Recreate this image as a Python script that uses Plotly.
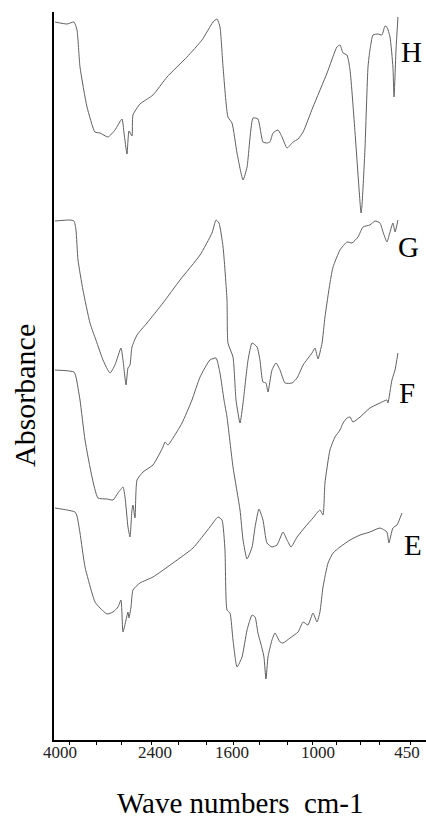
import numpy as np
import plotly.graph_objects as go

# ---- data (wavenumber cm-1, absorbance in arbitrary stacked units) ----
H_WN = [4084, 3882, 3764, 3714, 3663, 3545, 3411, 3326, 3192, 3074, 2956, 2922, 2872, 2838, 2788, 2771,
        2653, 2434, 2275, 2068, 1912, 1797, 1756, 1725, 1693, 1642, 1600, 1565, 1523, 1495, 1453, 1419,
        1384, 1356, 1335, 1314, 1279, 1251, 1216, 1174, 1139, 1104, 1035, 944, 883, 864, 845, 821, 802,
        771, 740, 734, 728, 710, 691, 679, 660, 629, 605, 586, 574, 555, 537, 530, 518, 506]
H_AB = [7.18, 7.16, 7.18, 7.10, 6.73, 6.33, 6.08, 6.07, 6.03, 6.10, 6.21, 6.07, 5.86, 6.09, 6.04, 6.25,
        6.36, 6.45, 6.63, 6.83, 7.00, 7.18, 7.21, 7.13, 6.73, 6.23, 6.17, 5.87, 5.60, 5.73, 6.22, 6.21,
        5.98, 5.97, 5.98, 6.07, 6.10, 6.03, 5.92, 5.98, 6.01, 6.08, 6.33, 6.67, 6.93, 6.95, 6.87, 6.85, 6.70,
        6.07, 5.37, 5.27, 5.35, 5.90, 6.73, 6.90, 7.05, 7.06, 7.05, 7.14, 7.13, 7.03, 6.73, 6.43, 6.90, 7.23]

G_WN = [4084, 3832, 3764, 3731, 3697, 3613, 3495, 3377, 3276, 3158, 3074, 2973, 2939, 2888, 2855, 2821,
        2788, 2703, 2535, 2317, 2140, 1932, 1808, 1766, 1735, 1693, 1652, 1642, 1593, 1572, 1544, 1523,
        1488, 1460, 1425, 1405, 1384, 1363, 1349, 1321, 1293, 1265, 1230, 1181, 1146, 1104, 1042, 1021,
        1000, 975, 957, 926, 907, 864, 821, 790, 753, 722, 679, 648, 617, 598, 574, 555, 537, 524, 506]
G_AB = [5.19, 5.20, 5.19, 5.10, 4.80, 4.50, 4.17, 3.97, 3.80, 3.67, 3.75, 3.92, 3.80, 3.55, 3.72, 3.75,
        3.93, 4.05, 4.17, 4.37, 4.60, 4.85, 5.07, 5.20, 5.17, 4.93, 4.40, 3.97, 3.83, 3.40, 3.17, 3.37,
        3.80, 3.97, 3.93, 3.80, 3.58, 3.57, 3.48, 3.70, 3.77, 3.70, 3.57, 3.57, 3.62, 3.75, 3.87, 3.92,
        3.81, 3.97, 4.23, 4.57, 4.73, 4.90, 4.98, 4.97, 5.03, 5.13, 5.15, 5.19, 5.17, 5.08, 4.98, 5.08, 5.17, 5.08, 5.20]

F_WN = [4084, 3764, 3731, 3663, 3579, 3461, 3360, 3209, 3107, 3023, 2939, 2905, 2855, 2821, 2788, 2771,
        2737, 2703, 2602, 2434, 2317, 2296, 2265, 2213, 2119, 2016, 1932, 1829, 1766, 1725, 1683, 1652,
        1593, 1544, 1523, 1495, 1460, 1439, 1412, 1384, 1356, 1321, 1286, 1244, 1216, 1188, 1146, 1090,
        1035, 988, 969, 957, 926, 895, 864, 845, 821, 802, 784, 740, 679, 617, 574, 568, 543, 524, 506]
F_AB = [3.70, 3.68, 3.63, 3.40, 3.00, 2.63, 2.42, 2.41, 2.40, 2.47, 2.53, 2.43, 2.13, 2.03, 2.30, 2.35,
        2.22, 2.60, 2.68, 2.75, 2.93, 2.98, 2.95, 3.02, 3.17, 3.40, 3.63, 3.80, 3.82, 3.67, 3.40, 3.23,
        2.73, 2.30, 2.00, 1.81, 1.93, 2.13, 2.31, 2.20, 1.97, 1.93, 1.95, 2.08, 2.00, 1.93, 2.03, 2.13,
        2.22, 2.30, 2.25, 2.57, 2.90, 3.03, 3.10, 3.17, 3.22, 3.23, 3.18, 3.23, 3.32, 3.37, 3.40, 3.37, 3.60, 3.70, 3.87]

E_WN = [4084, 3882, 3747, 3714, 3663, 3579, 3461, 3411, 3326, 3209, 3107, 3023, 2973, 2939, 2888, 2855,
        2838, 2804, 2771, 2653, 2434, 2213, 2005, 1829, 1745, 1704, 1673, 1652, 1621, 1593, 1565, 1530,
        1495, 1460, 1439, 1419, 1391, 1377, 1363, 1349, 1321, 1300, 1265, 1244, 1195, 1139, 1104, 1070,
        1035, 1007, 988, 969, 938, 907, 864, 802, 740, 679, 617, 574, 562, 537, 512, 481]
E_AB = [2.32, 2.30, 2.28, 2.24, 2.07, 1.73, 1.47, 1.38, 1.32, 1.26, 1.28, 1.33, 1.40, 1.08, 1.20, 1.28,
        1.22, 1.33, 1.50, 1.57, 1.63, 1.77, 1.92, 2.13, 2.23, 2.20, 1.90, 1.30, 1.27, 1.00, 0.73, 0.83,
        1.10, 1.25, 1.23, 1.07, 0.92, 0.83, 0.61, 0.83, 1.00, 1.07, 0.98, 0.97, 1.02, 1.08, 1.18, 1.15,
        1.27, 1.18, 1.28, 1.53, 1.77, 1.87, 1.93, 2.00, 2.05, 2.08, 2.12, 2.08, 1.97, 2.12, 2.15, 2.27]

SERIES_NAMES = ["H", "G", "F", "E"]
TICK_LABELS = [4000, 2400, 1600, 1000, 450]
MINOR_TICKS = [3832, 3377, 2956, 2451, 2161, 1860, 1593, 1405, 1216, 1035, 883, 740, 617, 431]

# ---- piecewise (non-linear) wavenumber axis of the original instrument plot ----
SCALE_WN = [4101, 4000, 2400, 1600, 1000, 450, 333]
SCALE_POS = [0, 6, 101, 178, 264, 353, 372]


def pos(wn):
    wn = np.asarray(wn, dtype=float)
    return np.interp(-wn, -np.asarray(SCALE_WN, float), np.asarray(SCALE_POS, float))


FONT = "Liberation Serif, Times New Roman, serif"
fig = go.Figure()
for name, wn, ab in [("H", H_WN, H_AB), ("G", G_WN, G_AB), ("F", F_WN, F_AB), ("E", E_WN, E_AB)]:
    fig.add_trace(go.Scatter(x=pos(wn), y=ab, mode="lines", name=name,
                             line=dict(color="#606060", width=1, shape="spline", smoothing=0.5),
                             showlegend=False))

# invisible trace on second axis for tick labels
fig.add_trace(go.Scatter(x=pos(TICK_LABELS), y=[0] * 5, xaxis="x2", mode="markers",
                         marker=dict(opacity=0), showlegend=False, hoverinfo="skip"))

fig.update_layout(
    width=426, height=818,
    margin=dict(l=54, r=0, t=12, b=78),
    paper_bgcolor="white", plot_bgcolor="white",
    xaxis=dict(range=[0, 372], showline=True, linecolor="black", linewidth=1.5,
               showgrid=False, zeroline=False, ticks="outside", ticklen=3, tickwidth=1,
               tickcolor="black", tickvals=list(pos(MINOR_TICKS)), ticktext=[""] * len(MINOR_TICKS)),
    xaxis2=dict(range=[0, 372], overlaying="x", side="bottom", showline=False, showgrid=False,
                zeroline=False, ticks="", tickvals=list(pos(TICK_LABELS)),
                ticktext=[str(t) for t in TICK_LABELS],
                tickfont=dict(family=FONT, size=17, color="#222")),
    yaxis=dict(range=[0, 7.28], showline=True, linecolor="black", linewidth=1.5,
               showgrid=False, zeroline=False, showticklabels=False, ticks=""),
)

# series letters
for name, xp, yv in [("H", 0.962, 6.88), ("G", 0.952, 4.93), ("F", 0.949, 3.47), ("E", 0.965, 1.95)]:
    fig.add_annotation(text=name, x=xp, xref="paper", xanchor="center", y=yv, yref="y",
                       yanchor="middle", showarrow=False,
                       font=dict(family=FONT, size=29, color="black"))

fig.add_annotation(text="Wave numbers&nbsp;&nbsp;cm-1", x=0.5, xref="paper", xanchor="center",
                   y=-0.0618, yref="paper", yanchor="top",
                   showarrow=False, font=dict(family=FONT, size=29, color="black"))
fig.add_annotation(text="Absorbance", x=-0.0806, xref="paper", xanchor="center",
                   y=0.4725, yref="paper", yanchor="middle", textangle=-90,
                   showarrow=False, font=dict(family=FONT, size=30, color="black"))

fig.write_html("out.html", config={"displayModeBar": False},
               post_script="document.body.style.margin='0';document.body.style.overflow='hidden';")
